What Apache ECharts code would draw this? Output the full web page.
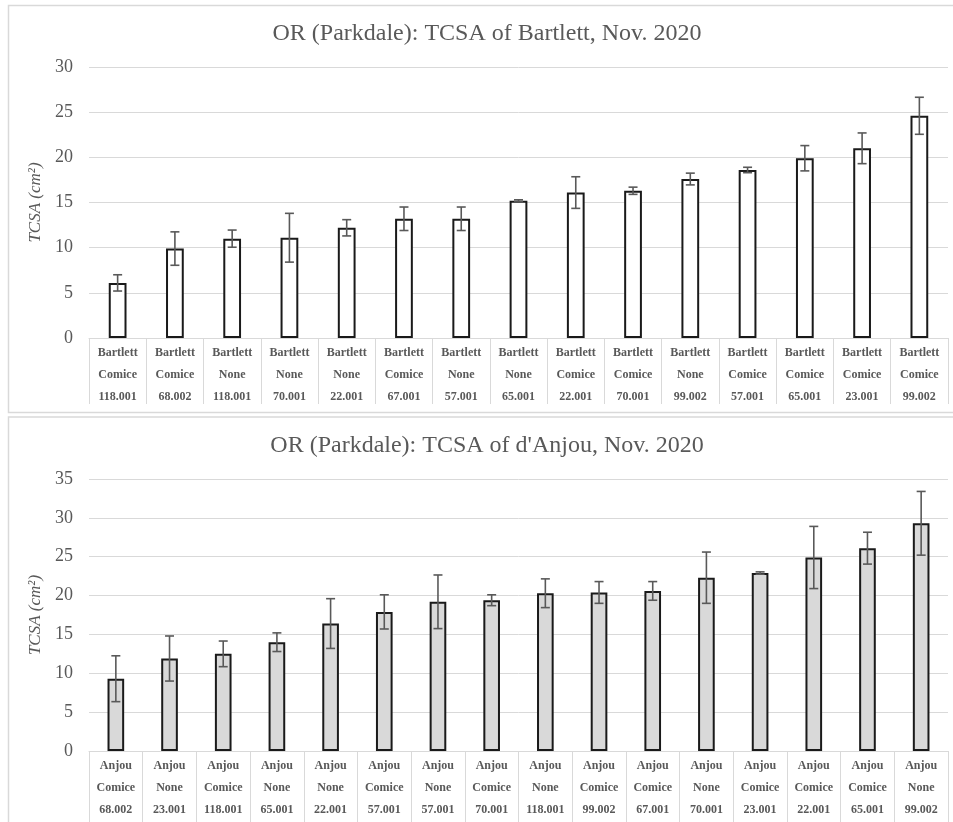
<!DOCTYPE html>
<html>
<head>
<meta charset="utf-8">
<script src="https://cdn.jsdelivr.net/npm/echarts@6/dist/echarts.min.js"></script>
<style>
  html, body { margin: 0; padding: 0; background: #ffffff; }
  #chart { width: 953px; height: 822px; }
</style>
</head>
<body>
<div id="chart"></div>
<script>
// ---- Data: top chart (Bartlett) ----
const topTitle = "OR (Parkdale): TCSA of Bartlett, Nov. 2020";
const topCultivar = ["Bartlett","Bartlett","Bartlett","Bartlett","Bartlett","Bartlett","Bartlett","Bartlett","Bartlett","Bartlett","Bartlett","Bartlett","Bartlett","Bartlett","Bartlett"];
const topInterstem = ["Comice","Comice","None","None","None","Comice","None","None","Comice","Comice","None","Comice","Comice","Comice","Comice"];
const topRootstock = ["118.001","68.002","118.001","70.001","22.001","67.001","57.001","65.001","22.001","70.001","99.002","57.001","65.001","23.001","99.002"];
const topMeans = [6.1, 9.9, 11.0, 11.1, 12.2, 13.2, 13.2, 15.2, 16.1, 16.3, 17.6, 18.6, 19.9, 21.0, 24.6];
const topErr   = [0.9, 1.85, 0.95, 2.7, 0.9, 1.3, 1.3, 0.1, 1.75, 0.4, 0.65, 0.3, 1.4, 1.7, 2.05];
const topTicks = { min: 0, max: 30, interval: 5 };

// ---- Data: bottom chart (d'Anjou) ----
const botTitle = "OR (Parkdale): TCSA of d'Anjou, Nov. 2020";
const botCultivar = ["Anjou","Anjou","Anjou","Anjou","Anjou","Anjou","Anjou","Anjou","Anjou","Anjou","Anjou","Anjou","Anjou","Anjou","Anjou","Anjou"];
const botInterstem = ["Comice","None","Comice","None","None","Comice","None","Comice","None","Comice","Comice","None","Comice","Comice","Comice","None"];
const botRootstock = ["68.002","23.001","118.001","65.001","22.001","57.001","57.001","70.001","118.001","99.002","67.001","70.001","23.001","22.001","65.001","99.002"];
const botMeans = [9.3, 11.9, 12.5, 14.0, 16.4, 17.9, 19.2, 19.4, 20.3, 20.4, 20.6, 22.3, 22.9, 24.9, 26.1, 29.3];
const botErr   = [2.95, 2.9, 1.65, 1.2, 3.2, 2.2, 3.45, 0.7, 1.85, 1.4, 1.2, 3.3, 0.15, 4.0, 2.05, 4.1];
const botTicks = { min: 0, max: 35, interval: 5 };

const yName = "TCSA (cm²)";

// ---- Build ----
const serif = "'Liberation Serif', 'Times New Roman', serif";
const gray = "#595959";
const light = "#d9d9d9";

function cats(a, b, c) { return a.map((v, i) => v + "\n" + b[i] + "\n" + c[i]); }
const topCats = cats(topCultivar, topInterstem, topRootstock);
const botCats = cats(botCultivar, botInterstem, botRootstock);

function errData(means, errs) { return means.map((m, i) => [i, m - errs[i], m + errs[i]]); }

function errRender(params, api) {
  const x = api.value(0);
  const lo = api.coord([x, api.value(1)]);
  const hi = api.coord([x, api.value(2)]);
  const cap = 4.5;
  const st = { stroke: gray, lineWidth: 1.6 };
  return {
    type: 'group',
    children: [
      { type: 'line', shape: { x1: lo[0], y1: lo[1], x2: hi[0], y2: hi[1] }, style: st },
      { type: 'line', shape: { x1: lo[0] - cap, y1: lo[1], x2: lo[0] + cap, y2: lo[1] }, style: st },
      { type: 'line', shape: { x1: hi[0] - cap, y1: hi[1], x2: hi[0] + cap, y2: hi[1] }, style: st }
    ]
  };
}

function xAxis(idx, data, tickLen) {
  return {
    type: 'category', gridIndex: idx, data: data,
    axisLine: { show: true, lineStyle: { color: light, width: 1 } },
    axisTick: { show: true, interval: 0, length: tickLen, lineStyle: { color: light, width: 1 } },
    axisLabel: { interval: 0, margin: 4, color: gray, fontFamily: serif, fontWeight: 'bold', fontSize: 12, lineHeight: 22 }
  };
}
function yAxis(idx, t) {
  return {
    type: 'value', gridIndex: idx, min: t.min, max: t.max, interval: t.interval,
    name: yName, nameLocation: 'middle', nameRotate: 90, nameGap: 38,
    nameTextStyle: { color: gray, fontFamily: serif, fontStyle: 'italic', fontSize: 17 },
    axisLine: { show: false }, axisTick: { show: false },
    axisLabel: { color: gray, fontFamily: serif, fontSize: 18, margin: 16 },
    splitLine: { lineStyle: { color: light, width: 1 } }
  };
}

const chart = echarts.init(document.getElementById('chart'), null, { renderer: 'canvas' });
chart.setOption({
  backgroundColor: '#ffffff',
  animation: false,
  title: [
    { text: topTitle, left: 482, top: 17, textAlign: 'center', textStyle: { color: gray, fontFamily: serif, fontWeight: 'normal', fontSize: 24 } },
    { text: botTitle, left: 482, top: 429, textAlign: 'center', textStyle: { color: gray, fontFamily: serif, fontWeight: 'normal', fontSize: 24 } }
  ],
  graphic: [
    { type: 'rect', shape: { x: 8.5, y: 5.5, width: 960, height: 407 }, style: { fill: 'none', stroke: light, lineWidth: 1.5 }, z: -1 },
    { type: 'rect', shape: { x: 8.5, y: 417, width: 960, height: 440 }, style: { fill: 'none', stroke: light, lineWidth: 1.5 }, z: -1 }
  ],
  grid: [
    { left: 89, right: 5, top: 67, height: 271 },
    { left: 89, right: 5, top: 479, height: 272 }
  ],
  xAxis: [ xAxis(0, topCats, 66), xAxis(1, botCats, 72) ],
  yAxis: [ yAxis(0, topTicks), yAxis(1, botTicks) ],
  series: [
    { type: 'bar', xAxisIndex: 0, yAxisIndex: 0, data: topMeans, barWidth: '31%',
      itemStyle: { color: '#ffffff', borderColor: '#1a1a1a', borderWidth: 2 } },
    { type: 'custom', xAxisIndex: 0, yAxisIndex: 0, data: errData(topMeans, topErr), renderItem: errRender, z: 5 },
    { type: 'bar', xAxisIndex: 1, yAxisIndex: 1, data: botMeans, barWidth: '31%',
      itemStyle: { color: '#d9d9d9', borderColor: '#1a1a1a', borderWidth: 2 } },
    { type: 'custom', xAxisIndex: 1, yAxisIndex: 1, data: errData(botMeans, botErr), renderItem: errRender, z: 5 }
  ]
});
</script>
</body>
</html>
